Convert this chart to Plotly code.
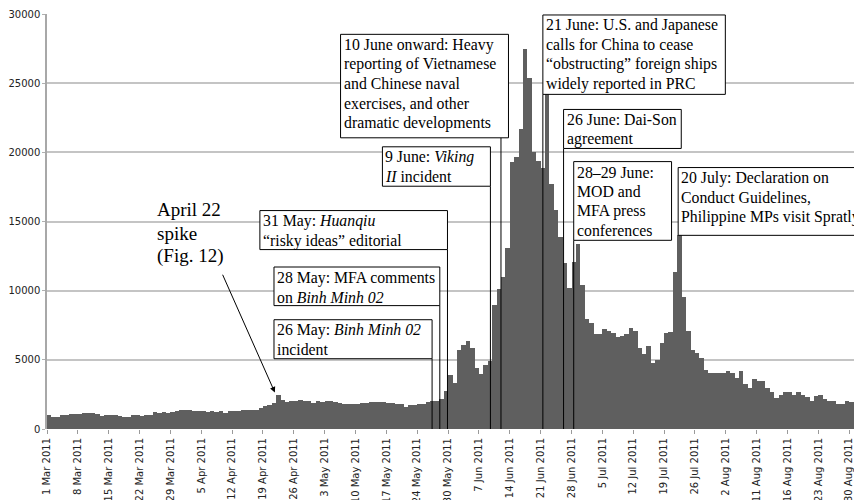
import plotly.graph_objects as go

# ---------------- data ----------------
daily_reports = [
    1000, 880, 880, 1000, 1020, 1050, 1050, 1050, 1150, 1150,
    1150, 1100, 950, 1020, 1020, 1020, 950, 880, 880, 1000,
    980, 950, 1000, 1000, 1200, 1150, 1200, 1150, 1250, 1300,
    1350, 1370, 1370, 1280, 1270, 1270, 1260, 1270, 1260, 1270,
    1170, 1290, 1290, 1300, 1370, 1370, 1370, 1360, 1510, 1660,
    1750, 1900, 2440, 2120, 1950, 2050, 2050, 2120, 2030, 2030,
    1900, 2000, 1950, 2030, 2000, 1950, 1900, 1830, 1830, 1800,
    1780, 1900, 1900, 1950, 1980, 1980, 1980, 1900, 1900, 1780,
    1780, 1610, 1730, 1730, 1800, 1800, 1950, 2020, 2020, 2150,
    2760, 3880, 3290, 5730, 6050, 6340, 5860, 4390, 3980, 4640,
    4880, 9000, 10100, 11000, 13050, 19280, 19640, 21700, 27500, 25400,
    20000, 19400, 18900, 24200, 17700, 15800, 13900, 12000, 10200, 12100,
    13400, 10400, 7930, 7690, 6900, 6900, 7200, 7080, 6950, 6660,
    6710, 6900, 7320, 7080, 5860, 5440, 5980, 4760, 5000, 6220,
    6950, 7000, 11350, 14000, 9520, 7080, 5730, 5500, 5120, 4270,
    4070, 4070, 4030, 4030, 4220, 4080, 3660, 4200, 3250, 3000,
    3590, 3490, 3490, 2930, 2680, 2270, 2440, 2640, 2640, 2440,
    2680, 2490, 2320, 2030, 2370, 2440, 2200, 2000, 2000, 1830,
    1830, 2030, 1930, 1930,
]

tick_labels = [
    "1 Mar 2011", "8 Mar 2011", "15 Mar 2011", "22 Mar 2011", "29 Mar 2011",
    "5 Apr 2011", "12 Apr 2011", "19 Apr 2011", "26 Apr 2011", "3 May 2011",
    "10 May 2011", "17 May 2011", "24 May 2011", "30 May 2011", "7 Jun 2011",
    "14 Jun 2011", "21 Jun 2011", "28 Jun 2011", "5 Jul 2011", "12 Jul 2011",
    "19 Jul 2011", "26 Jul 2011", "2 Aug 2011", "11 Aug 2011", "16 Aug 2011",
    "23 Aug 2011", "30 Aug 2011",
]

event_texts = [
    ["10 June onward: Heavy", "reporting of Vietnamese", "and Chinese naval",
     "exercises, and other", "dramatic developments"],
    ["9 June: <i>Viking</i>", "<i>II</i> incident"],
    ["31 May: <i>Huanqiu</i>", "\u201crisky ideas\u201d editorial"],
    ["28 May: MFA comments", "on <i>Binh Minh 02</i>"],
    ["26 May: <i>Binh Minh 02</i>", "incident"],
    ["21 June: U.S. and Japanese", "calls for China to cease",
     "\u201cobstructing\u201d foreign ships", "widely reported in PRC"],
    ["26 June: Dai-Son", "agreement"],
    ["28\u201329 June:", "MOD and", "MFA press", "conferences"],
    ["20 July: Declaration on", "Conduct Guidelines,",
     "Philippine MPs visit Spratlys"],
]

callout_lines = ["April 22", "spike", "(Fig. 12)"]

# ---------------- layout helpers ----------------
n = len(daily_reports)
x_centers = [i + 0.5 for i in range(n)]
tick_vals = [i * 7 for i in range(len(tick_labels))]

# box geometry (x in day-index units, y in value units) and where the leader line sits
boxes = [
    dict(x0=66.6, x1=104.7, y0=21050, y1=28530, line=103.0),
    dict(x0=76.1, x1=100.6, y0=17550, y1=20400, line=100.6),
    dict(x0=48.3, x1=90.86, y0=12970, y1=15790, line=90.86),
    dict(x0=51.5, x1=89.12, y0=8920, y1=11710, line=89.12),
    dict(x0=51.5, x1=87.37, y0=5080, y1=7900, line=87.37),
    dict(x0=112.5, x1=153.9, y0=24190, y1=29930, line=112.5),
    dict(x0=117.2, x1=143.9, y0=20280, y1=23100, line=117.2),
    dict(x0=119.5, x1=141.7, y0=13640, y1=19330, line=119.5),
    dict(x0=143.2, x1=190.0, y0=14000, y1=18900, line=None),
]

serif = "Liberation Serif, Times New Roman, serif"
sans = "DejaVu Sans, Verdana, sans-serif"
LINE_PX = 19.5      # line pitch inside the boxes
FIRST_PX = 10.5     # from box top to the middle of the first line

fig = go.Figure()
fig.add_trace(go.Bar(
    x=x_centers, y=daily_reports, width=1.0,
    marker=dict(color="#5f5f5f", line=dict(width=0)),
    hoverinfo="skip",
))

shapes = []
annotations = []
for b, lines in zip(boxes, event_texts):
    if b["line"] is not None:
        shapes.append(dict(type="line", xref="x", yref="y",
                           x0=b["line"], x1=b["line"], y0=0, y1=b["y0"],
                           line=dict(color="black", width=1), layer="above"))
    shapes.append(dict(type="rect", xref="x", yref="y",
                       x0=b["x0"], x1=b["x1"], y0=b["y0"], y1=b["y1"],
                       fillcolor="white", line=dict(color="black", width=1),
                       layer="above"))
    for k, ln in enumerate(lines):
        annotations.append(dict(
            x=b["x0"], y=b["y1"], xref="x", yref="y",
            xanchor="left", yanchor="middle", xshift=3,
            yshift=-(FIRST_PX + k * LINE_PX),
            text=ln, showarrow=False, align="left",
            font=dict(family=serif, size=15.8, color="black"),
            borderpad=0, borderwidth=0,
        ))

# April 22 spike callout
for k, ln in enumerate(callout_lines):
    annotations.append(dict(
        x=24.9, y=16700, xref="x", yref="y", xanchor="left", yanchor="middle",
        yshift=-(12 + k * 23.2),
        text=ln, showarrow=False, align="left",
        font=dict(family=serif, size=19, color="black"),
        borderpad=0, borderwidth=0,
    ))
annotations.append(dict(
    x=51.7, y=2640, xref="x", yref="y",
    ax=39.7, ay=11260, axref="x", ayref="y",
    text="", showarrow=True, arrowhead=2, arrowsize=1.1, arrowwidth=1,
    arrowcolor="black",
))

# the page body has an 8px margin, so the figure is sized to fill the remaining window
fig.update_layout(
    width=854, height=492,
    margin=dict(l=39, r=4, t=6, b=71, autoexpand=False),
    plot_bgcolor="white", paper_bgcolor="white",
    showlegend=False, bargap=0,
    shapes=shapes, annotations=annotations,
    font=dict(family=sans, size=10, color="#222"),
)
fig.update_xaxes(
    range=[0, n], tickmode="array", tickvals=tick_vals, ticktext=tick_labels,
    tickangle=-90, ticks="outside", ticklen=4, tickcolor="#9a9a9a",
    showgrid=False, showline=False, zeroline=False, automargin=False,
    tickfont=dict(family=sans, size=10, color="#222"),
)
fig.update_yaxes(
    range=[0, 30000], dtick=5000, tickformat="d",
    ticks="outside", ticklen=3, tickcolor="#b0b0b0",
    showgrid=True, gridcolor="#c4c4c4", gridwidth=2,
    showline=True, linecolor="#a8a8a8", linewidth=1.5, zeroline=False,
    automargin=False,
    tickfont=dict(family=sans, size=10, color="#222"),
)

fig.write_html("out.html")
